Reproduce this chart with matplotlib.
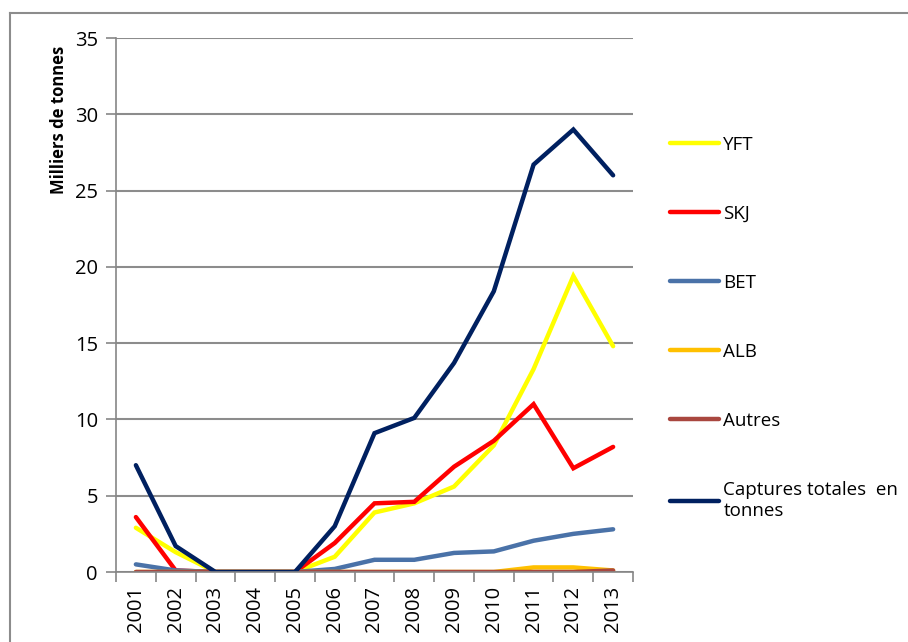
import matplotlib.pyplot as plt
from matplotlib.lines import Line2D
import numpy as np

plt.rcParams['font.family'] = ['Open Sans', 'DejaVu Sans']

years = ['2001', '2002', '2003', '2004', '2005', '2006', '2007',
         '2008', '2009', '2010', '2011', '2012', '2013']

yft = [2.9, 1.3, 0, 0, 0, 1.0, 3.9, 4.5, 5.6, 8.3, 13.3, 19.4, 14.8]
skj = [3.6, 0.1, 0, 0, 0, 1.9, 4.5, 4.6, 6.9, 8.6, 11.0, 6.8, 8.2]
bet = [0.5, 0.1, 0, 0, 0, 0.2, 0.8, 0.8, 1.25, 1.35, 2.05, 2.5, 2.8]
alb = [0, 0, 0, 0, 0, 0, 0, 0, 0, 0, 0.3, 0.3, 0.1]
autres = [0, 0, 0, 0, 0, 0, 0, 0, 0, 0, 0, 0, 0.1]
total = [7.0, 1.7, 0, 0, 0, 3.0, 9.1, 10.1, 13.7, 18.4, 26.7, 29.0, 26.0]

series = [
    ('YFT', yft, '#ffff00'),
    ('SKJ', skj, '#ff0000'),
    ('BET', bet, '#4a72a8'),
    ('ALB', alb, '#ffc000'),
    ('Autres', autres, '#a9473f'),
    ('Captures totales  en\ntonnes', total, '#002060'),
]

fig = plt.figure(figsize=(9.08, 6.42), dpi=100)
ax = fig.add_axes([116 / 908, 1 - 572 / 642, (633 - 116) / 908, (572 - 38) / 642])

x = np.arange(len(years))
for name, vals, col in series:
    ax.plot(x, vals, color=col, lw=3.2, label=name, solid_capstyle='round',
            solid_joinstyle='miter')

ax.set_xlim(-0.5, len(years) - 0.5)
ax.set_ylim(0, 35)
ax.set_yticks(range(0, 36, 5))
ax.set_xticks(x)
ax.set_xticklabels(years, rotation=90, fontsize=14.5)
ax.set_xticks(np.arange(-0.5, len(years), 1), minor=True)
ax.tick_params(axis='x', which='major', length=0, pad=10)
ax.tick_params(axis='x', which='minor', length=7, color='#868686', width=1.2)
ax.tick_params(axis='y', length=7, color='#868686', width=1.2, labelsize=14.5, pad=6)

ax.grid(axis='y', color='#8c8c8c', lw=1.5)
ax.set_axisbelow(True)
for s in ['top', 'right']:
    ax.spines[s].set_visible(False)
for s in ['left', 'bottom']:
    ax.spines[s].set_color('#868686')
    ax.spines[s].set_linewidth(1.2)

ax.set_ylabel('Milliers de tonnes', fontsize=12, fontweight='bold', loc='top')
ax.yaxis.set_label_coords(-0.092, 0.985)

fig.legend(loc='upper left', bbox_to_anchor=(653 / 908, 1 - 119 / 642),
           frameon=False, fontsize=13.5, handlelength=2.6, handletextpad=0.25,
           labelspacing=2.72)

# chart area border (cropped)
fig.add_artist(Line2D([10 / 908, 1.0], [1 - 13 / 642, 1 - 13 / 642],
                      transform=fig.transFigure, color='#8c8c8c', lw=1.5))
fig.add_artist(Line2D([10 / 908, 10 / 908], [0, 1 - 13 / 642],
                      transform=fig.transFigure, color='#8c8c8c', lw=1.5))

fig.savefig('out.png', dpi=100)
